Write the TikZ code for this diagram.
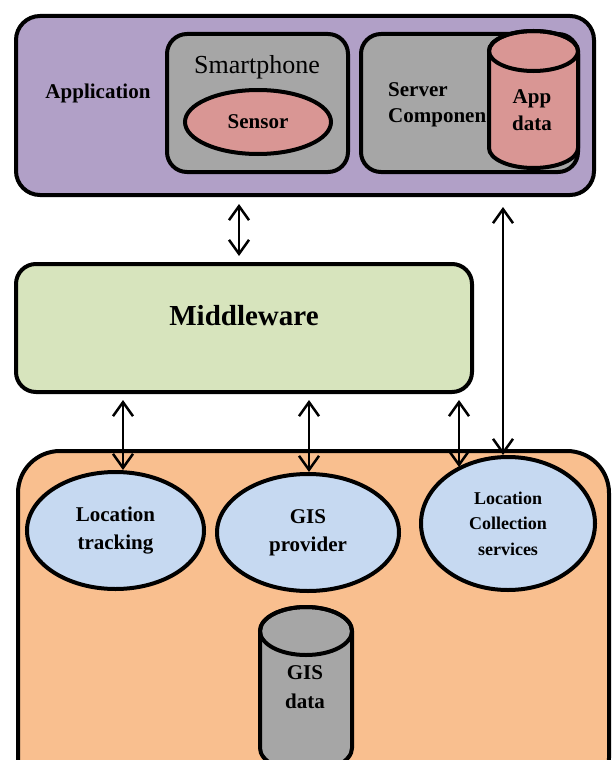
\documentclass[tikz,border=0pt]{standalone}
\usepackage{fontspec}
\setmainfont{Liberation Serif}
\usetikzlibrary{arrows.meta,shapes.geometric,calc}
\definecolor{appc}{HTML}{B1A0C7}
\definecolor{grayc}{HTML}{A6A6A6}
\definecolor{pinkc}{HTML}{D99694}
\definecolor{greenc}{HTML}{D7E4BD}
\definecolor{orangec}{HTML}{F9BF8F}
\definecolor{bluec}{HTML}{C6D9F1}
\begin{document}
\begin{tikzpicture}[x=1pt,y=-1pt,
  box/.style={draw=black,line width=4pt,rounded corners=#1,inner sep=0pt},
  ell/.style={ellipse,draw=black,line width=4pt,fill=bluec,inner sep=0pt},
  lbl/.style={font=\fontsize{21}{27}\selectfont\bfseries,align=center,inner sep=0pt},
  cyl/.style={line width=4pt,draw=black},
  arr/.style={line width=2.5pt,{Straight Barb[length=14pt,width=20pt]}-{Straight Barb[length=14pt,width=20pt]}}
]
\useasboundingbox (0,0) rectangle (613,760);
\clip (0,0) rectangle (613,760);

% Application layer
\node[box=24pt,fill=appc,minimum width=578pt,minimum height=179pt] (app) at (305,105.5) {};
\node[lbl] (apptxt) at (98,93) {Application};
\node[box=20pt,fill=grayc,minimum width=181pt,minimum height=138pt] (sp) at (257.5,103) {};
\node[font=\fontsize{26}{30}\selectfont,inner sep=0pt] (sptxt) at (257,67) {Smartphone};
\node[ellipse,draw=black,line width=4pt,fill=pinkc,minimum width=146pt,minimum height=64pt,lbl] (sensor) at (258,122) {Sensor};
\node[box=20pt,fill=grayc,minimum width=217pt,minimum height=138pt] (srv) at (469.5,103) {};
\node[lbl,align=left,anchor=west,font=\fontsize{21}{26}\selectfont\bfseries] (srvtxt) at (388,105) {Server\\Componen};
\path[cyl,fill=pinkc] (489,51) -- (489,148) arc[start angle=180,end angle=0,x radius=44.5,y radius=20] -- (578,51) arc[start angle=0,end angle=-180,x radius=44.5,y radius=20] -- cycle;
\draw[cyl] (533.5,51) ellipse[x radius=44.5,y radius=20];
\node[lbl,font=\fontsize{21}{27}\selectfont\bfseries] (appdata) at (532,110) {App\\data};

% Middleware
\node[box=20pt,fill=greenc,minimum width=456pt,minimum height=128pt] (mw) at (244,328) {};
\node[font=\fontsize{29}{34}\selectfont\bfseries,inner sep=0pt] (mwtxt) at (244,316) {Middleware};

% GIS layer
\node[box=42pt,fill=orangec,minimum width=591pt,minimum height=349pt] (gis) at (313.5,625.5) {};
\node[ell,minimum width=177pt,minimum height=117pt,lbl,font=\fontsize{21}{28}\selectfont\bfseries] (lt) at (115.5,530.5) {Location\\tracking};
\node[ell,minimum width=182pt,minimum height=117pt,lbl,font=\fontsize{21}{28}\selectfont\bfseries] (gp) at (308,532.5) {GIS\\provider};
\node[ell,minimum width=174pt,minimum height=133pt,lbl,font=\fontsize{18}{25.5}\selectfont\bfseries] (lcs) at (508,523.5) {Location\\Collection\\services};
\path[cyl,fill=grayc] (260,631) -- (260,748) arc[start angle=180,end angle=0,x radius=46,y radius=24] -- (352,631) arc[start angle=0,end angle=-180,x radius=46,y radius=24] -- cycle;
\draw[cyl] (306,631) ellipse[x radius=46,y radius=24];
\node[lbl,font=\fontsize{21}{29}\selectfont\bfseries] (gisdata) at (305,687) {GIS\\data};

% connectors
\coordinate (c1) at (239,0);
\coordinate (c2) at (503,0);
\coordinate (c3) at (123,0);
\coordinate (c4) at (309,0);
\coordinate (c5) at (459,0);
\coordinate (e5) at ($(lcs.north -| c5)+(0,12)$);
\draw[arr,shorten <=7pt,shorten >=6pt] (app.south -| c1) -- (mw.north -| c1);
\draw[arr,shorten <=10pt] (app.south -| c2) -- (lcs.north -| c2);
\draw[arr,shorten <=6pt] (mw.south -| c3) -- (lt.north -| c3);
\draw[arr,shorten <=6pt] (mw.south -| c4) -- (gp.north -| c4);
\draw[arr,shorten <=6pt] (mw.south -| c5) -- (e5);
\end{tikzpicture}
\end{document}
